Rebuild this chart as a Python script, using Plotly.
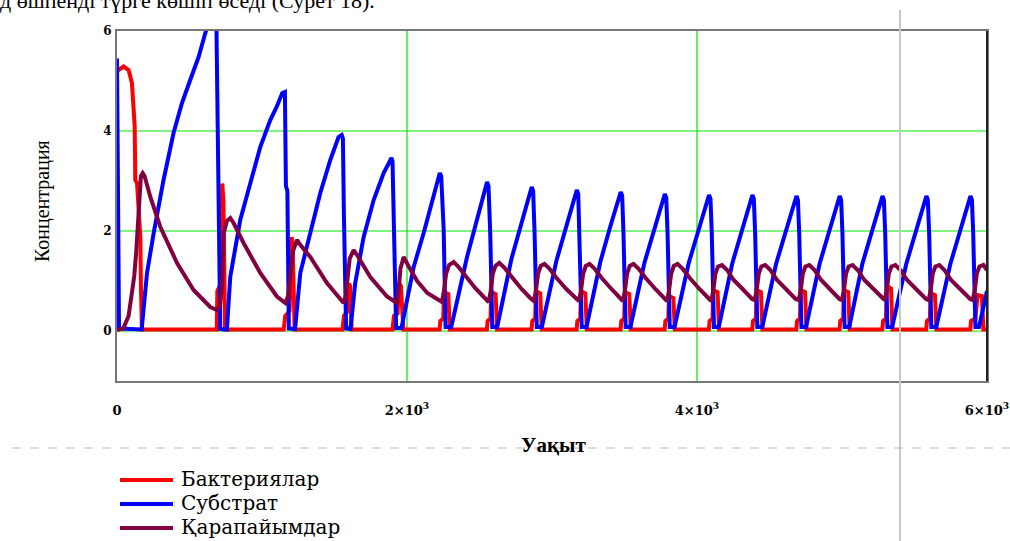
import plotly.graph_objects as go

# ---------------- data ----------------
bact_t = [0, 46, 80, 103, 115, 122, 126, 138, 150, 161, 165, 172,
          688, 692, 718, 726, 734, 745,
          1150, 1160, 1190, 1205, 1212, 1225,
          1555, 1565, 1590, 1600, 1608, 1618,
          1900, 1910, 1935, 1945, 1958, 1975,
          2225, 2230, 2250, 2255, 2285, 2295,
          2551, 2556, 2576, 2581, 2611, 2621,
          2859, 2864, 2884, 2889, 2919, 2929,
          3170, 3175, 3195, 3200, 3230, 3240,
          3473, 3478, 3498, 3503, 3533, 3543,
          3777, 3782, 3802, 3807, 3837, 3847,
          4082, 4087, 4107, 4112, 4142, 4152,
          4381, 4386, 4406, 4411, 4441, 4451,
          4685, 4690, 4710, 4715, 4745, 4755,
          4983, 4988, 5008, 5013, 5043, 5053,
          5278, 5283, 5303, 5308, 5338, 5348,
          5581, 5586, 5606, 5611, 5641, 5651,
          5885, 5890, 5920, 5935, 5965, 5975,
          6000]
bact_y = [5.2, 5.29, 5.22, 4.96, 4.42, 4.1, 3.02, 2.96, 2.4, 1.88, 0.88, 0.03,
          0.03, 0.8, 0.95, 2.95, 2.6, 0.03,
          0.03, 0.3, 0.4, 1.88, 1.6, 0.03,
          0.03, 0.3, 0.4, 0.95, 0.9, 0.03,
          0.03, 0.3, 0.35, 0.96, 0.9, 0.03,
          0.03, 0.2, 0.25, 0.78, 0.74, 0.03,
          0.03, 0.2, 0.25, 0.78, 0.74, 0.03,
          0.03, 0.2, 0.25, 0.8, 0.75, 0.03,
          0.03, 0.2, 0.25, 0.8, 0.75, 0.03,
          0.03, 0.2, 0.25, 0.78, 0.74, 0.03,
          0.03, 0.2, 0.25, 0.7, 0.66, 0.03,
          0.03, 0.2, 0.25, 0.82, 0.78, 0.03,
          0.03, 0.2, 0.25, 0.82, 0.78, 0.03,
          0.03, 0.2, 0.25, 0.82, 0.78, 0.03,
          0.03, 0.2, 0.25, 0.82, 0.78, 0.03,
          0.03, 0.2, 0.25, 0.9, 0.85, 0.03,
          0.03, 0.2, 0.25, 0.76, 0.72, 0.03,
          0.03, 0.2, 0.25, 0.72, 0.7, 0.03,
          0.03]

subs_t = [0, 14, 170, 207, 253, 321, 390, 448, 505, 563, 609, 650, 685, 700, 712,
          758, 781, 850, 919, 988, 1057, 1101, 1140, 1158, 1165, 1175, 1185,
          1228, 1264, 1333, 1402, 1471, 1528, 1550, 1558, 1565, 1580,
          1610, 1643, 1701, 1770, 1839, 1893, 1900, 1908, 1925,
          1962, 2046, 2115, 2184, 2226, 2236, 2253, 2266,
          2305, 2414, 2483, 2552, 2562, 2574, 2588,
          2622, 2720, 2790, 2860, 2870, 2880, 2895,
          2930, 3030, 3100, 3171, 3181, 3190, 3205,
          3238, 3333, 3403, 3474, 3484, 3493, 3508,
          3541, 3637, 3707, 3778, 3788, 3797, 3812,
          3845, 3942, 4012, 4083, 4093, 4102, 4117,
          4150, 4243, 4312, 4382, 4392, 4401, 4416,
          4450, 4545, 4615, 4686, 4696, 4705, 4720,
          4752, 4845, 4914, 4984, 4994, 5003, 5018,
          5050, 5140, 5209, 5279, 5289, 5298, 5313,
          5346, 5443, 5512, 5582, 5592, 5601, 5616,
          5650, 5747, 5816, 5886, 5896, 5905, 5920,
          5945, 6000]
subs_y = [5.45, 0.05, 0.03, 1.16, 1.96, 3.02, 3.96, 4.56, 5.02, 5.48, 5.96, 6.3, 6.3, 3.0, 0.04,
          0.03, 1.08, 2.22, 2.96, 3.68, 4.22, 4.48, 4.76, 4.78, 2.9, 2.8, 0.05,
          0.04, 1.16, 1.96, 2.76, 3.42, 3.88, 3.92, 3.85, 2.3, 0.05,
          0.04, 0.96, 1.88, 2.62, 3.16, 3.46, 3.4, 2.2, 0.06,
          0.06, 1.28, 1.96, 2.68, 3.16, 3.1, 2.02, 0.08,
          0.08, 1.48, 2.22, 2.98, 2.9, 1.96, 0.08,
          0.08, 1.44, 2.18, 2.88, 2.8, 1.95, 0.08,
          0.08, 1.4, 2.14, 2.82, 2.74, 1.95, 0.08,
          0.08, 1.38, 2.1, 2.78, 2.7, 1.95, 0.08,
          0.08, 1.36, 2.08, 2.74, 2.66, 1.95, 0.08,
          0.08, 1.35, 2.06, 2.72, 2.64, 1.95, 0.08,
          0.08, 1.35, 2.06, 2.72, 2.64, 1.95, 0.08,
          0.08, 1.34, 2.05, 2.7, 2.62, 1.95, 0.08,
          0.08, 1.34, 2.05, 2.7, 2.62, 1.95, 0.08,
          0.08, 1.34, 2.05, 2.7, 2.62, 1.95, 0.08,
          0.08, 1.34, 2.05, 2.7, 2.62, 1.95, 0.08,
          0.08, 1.34, 2.05, 2.7, 2.62, 1.95, 0.08,
          0.08, 0.8]

prot_t = [0, 43, 80, 103, 119, 133, 142, 154, 165, 177, 190, 230, 299, 414, 528, 643, 690,
          710, 724, 736, 758, 781, 804, 873, 988, 1103, 1161,
          1180, 1195, 1214, 1241, 1265, 1333, 1448, 1563,
          1578, 1590, 1605, 1632, 1660, 1747, 1862, 1931,
          1942, 1955, 1977, 2010, 2070, 2140, 2200, 2241,
          2255, 2270, 2290, 2322, 2350, 2400, 2470, 2530, 2563,
          2577, 2592, 2610, 2636, 2670, 2720, 2790, 2850, 2875,
          2889, 2904, 2922, 2948, 2982, 3032, 3102, 3160, 3186,
          3200, 3215, 3233, 3259, 3293, 3343, 3413, 3470, 3489,
          3503, 3518, 3536, 3562, 3596, 3646, 3716, 3774, 3793,
          3807, 3822, 3840, 3866, 3900, 3950, 4020, 4078, 4098,
          4112, 4127, 4145, 4172, 4207, 4253, 4321, 4380, 4397,
          4411, 4426, 4444, 4471, 4506, 4552, 4620, 4680, 4701,
          4715, 4730, 4748, 4775, 4810, 4856, 4924, 4982, 4999,
          5013, 5028, 5046, 5073, 5108, 5154, 5222, 5278, 5294,
          5308, 5323, 5341, 5368, 5403, 5449, 5517, 5580, 5597,
          5611, 5626, 5644, 5671, 5706, 5752, 5820, 5884, 5901,
          5915, 5930, 5948, 5975, 6000]
prot_y = [0.02, 0.05, 0.3, 0.7, 1.1, 1.6, 2.1, 2.76, 3.1, 3.16, 3.1, 2.68, 2.08, 1.36, 0.82, 0.48, 0.42,
          0.5, 0.9, 1.96, 2.2, 2.26, 2.16, 1.76, 1.16, 0.69, 0.56,
          0.7, 1.1, 1.6, 1.82, 1.72, 1.48, 0.96, 0.56,
          0.7, 1.05, 1.45, 1.62, 1.5, 1.08, 0.69, 0.56,
          0.8, 1.25, 1.48, 1.3, 1.0, 0.76, 0.64, 0.58,
          0.8, 1.15, 1.32, 1.38, 1.3, 1.12, 0.86, 0.68, 0.58,
          0.8, 1.15, 1.3, 1.36, 1.27, 1.08, 0.84, 0.66, 0.6,
          0.8, 1.15, 1.3, 1.34, 1.25, 1.06, 0.83, 0.66, 0.6,
          0.8, 1.15, 1.3, 1.34, 1.25, 1.06, 0.83, 0.66, 0.6,
          0.8, 1.15, 1.3, 1.34, 1.25, 1.06, 0.83, 0.66, 0.6,
          0.8, 1.15, 1.3, 1.34, 1.25, 1.06, 0.83, 0.66, 0.6,
          0.8, 1.15, 1.29, 1.32, 1.22, 1.02, 0.82, 0.64, 0.62,
          0.8, 1.15, 1.29, 1.32, 1.22, 1.02, 0.82, 0.64, 0.62,
          0.8, 1.15, 1.29, 1.32, 1.22, 1.02, 0.82, 0.64, 0.62,
          0.8, 1.15, 1.29, 1.32, 1.22, 1.02, 0.82, 0.64, 0.62,
          0.8, 1.15, 1.29, 1.32, 1.22, 1.02, 0.82, 0.64, 0.62,
          0.8, 1.15, 1.29, 1.32, 1.22, 1.02, 0.82, 0.64, 0.62,
          0.8, 1.15, 1.29, 1.32, 1.22]

series_names = ["Бактериялар", "Субстрат", "Қарапайымдар"]
series_colors = ["#FF0000", "#0000FF", "#800040"]

x_tickvals = [0, 2000, 4000, 6000]
x_ticktext = ["0", "2×10<sup>3</sup>", "4×10<sup>3</sup>", "6×10<sup>3</sup>"]
y_tickvals = [0, 2, 4, 6]
y_ticktext = ["0", "2", "4", "6"]
x_grid = [2000, 4000]
y_grid = [0, 2, 4]

x_title = "Уақыт"
y_title = "Концентрация"
top_text = "д өшпенді түрге көшіп өседі (Сурет 18)."

# ---------------- figure ----------------
W, H = 1010, 541
ML, MR, MT, MB = 117, 23, 31, 160
PW, PH = W - ML - MR, H - MT - MB


def px(x):
    return (x - ML) / PW


def py(y):
    return (H - MB - y) / PH


fig = go.Figure()
for t, y, name, col in zip([bact_t, subs_t, prot_t], [bact_y, subs_y, prot_y],
                           series_names, series_colors):
    fig.add_trace(go.Scatter(x=t, y=y, mode="lines", name=name,
                             line=dict(color=col, width=4), showlegend=False,
                             hoverinfo="skip"))

serif = "Liberation Serif"
grid_green = "#00E600"
fig.update_layout(
    template="none",
    width=W, height=H,
    margin=dict(l=ML, r=MR, t=MT, b=MB, pad=0),
    paper_bgcolor="white", plot_bgcolor="white",
    xaxis=dict(range=[0, 6000], tickvals=x_tickvals, ticktext=x_ticktext,
               showgrid=False, zeroline=False,
               showline=True, linecolor="#777777", linewidth=2, mirror=True,
               ticks="", ticklabelstandoff=16, automargin=False,
               tickfont=dict(family="DejaVu Serif", size=13, color="black", weight="bold")),
    yaxis=dict(range=[-1, 6], tickvals=y_tickvals, ticktext=y_ticktext,
               showgrid=False, zeroline=False,
               showline=True, linecolor="#777777", linewidth=2, mirror=True,
               ticks="", ticklabelstandoff=1, automargin=False,
               tickfont=dict(family="DejaVu Serif", size=12, color="black", weight="bold")),
)

shapes = []
# green grid lines
for gx in x_grid:
    shapes.append(dict(type="line", xref="x", yref="paper", x0=gx, x1=gx, y0=0, y1=1,
                       line=dict(color=grid_green, width=1.2), layer="below"))
for gy in y_grid:
    shapes.append(dict(type="line", xref="paper", yref="y", x0=0, x1=1, y0=gy, y1=gy,
                       line=dict(color=grid_green, width=1.2), layer="below"))
# darker right border
shapes.append(dict(type="line", xref="paper", yref="paper", x0=1, x1=1, y0=0, y1=1,
                   line=dict(color="#222222", width=2)))
# page guide lines of the document
shapes.append(dict(type="line", xref="paper", yref="paper", x0=px(900), x1=px(900),
                   y0=py(541), y1=py(10), line=dict(color="#C8C8C8", width=2), layer="above"))
shapes.append(dict(type="line", xref="paper", yref="paper", x0=px(12), x1=px(1010),
                   y0=py(448), y1=py(448), line=dict(color="#BBBBBB", width=1, dash="dash"),
                   layer="above"))
# legend samples
leg_y = [480, 504, 528]
for ly, col in zip(leg_y, series_colors):
    shapes.append(dict(type="line", xref="paper", yref="paper", x0=px(120), x1=px(173),
                       y0=py(ly), y1=py(ly), line=dict(color=col, width=4)))
fig.update_layout(shapes=shapes)

ann = []
for ly, name in zip(leg_y, series_names):
    ann.append(dict(text=name, xref="paper", yref="paper", x=px(179), y=py(ly - 1),
                    xanchor="left", yanchor="middle", showarrow=False,
                    font=dict(family="DejaVu Serif", size=20, color="black")))
ann.append(dict(text=x_title, xref="paper", yref="paper", x=px(553), y=py(445),
                xanchor="center", yanchor="middle", showarrow=False,
                font=dict(family=serif, size=21, color="black", weight="bold")))
ann.append(dict(text=y_title, xref="paper", yref="paper", x=px(42), y=py(201),
                xanchor="center", yanchor="middle", textangle=-90, showarrow=False,
                font=dict(family=serif, size=20, color="black")))
ann.append(dict(text=top_text, xref="paper", yref="paper", x=px(-2), y=py(0),
                xanchor="left", yanchor="middle", showarrow=False,
                font=dict(family=serif, size=22, color="black")))
fig.update_layout(annotations=ann)

fig.write_html("out.html", config={"displayModeBar": False},
               post_script="document.body.style.margin='0';document.body.style.padding='0';")
